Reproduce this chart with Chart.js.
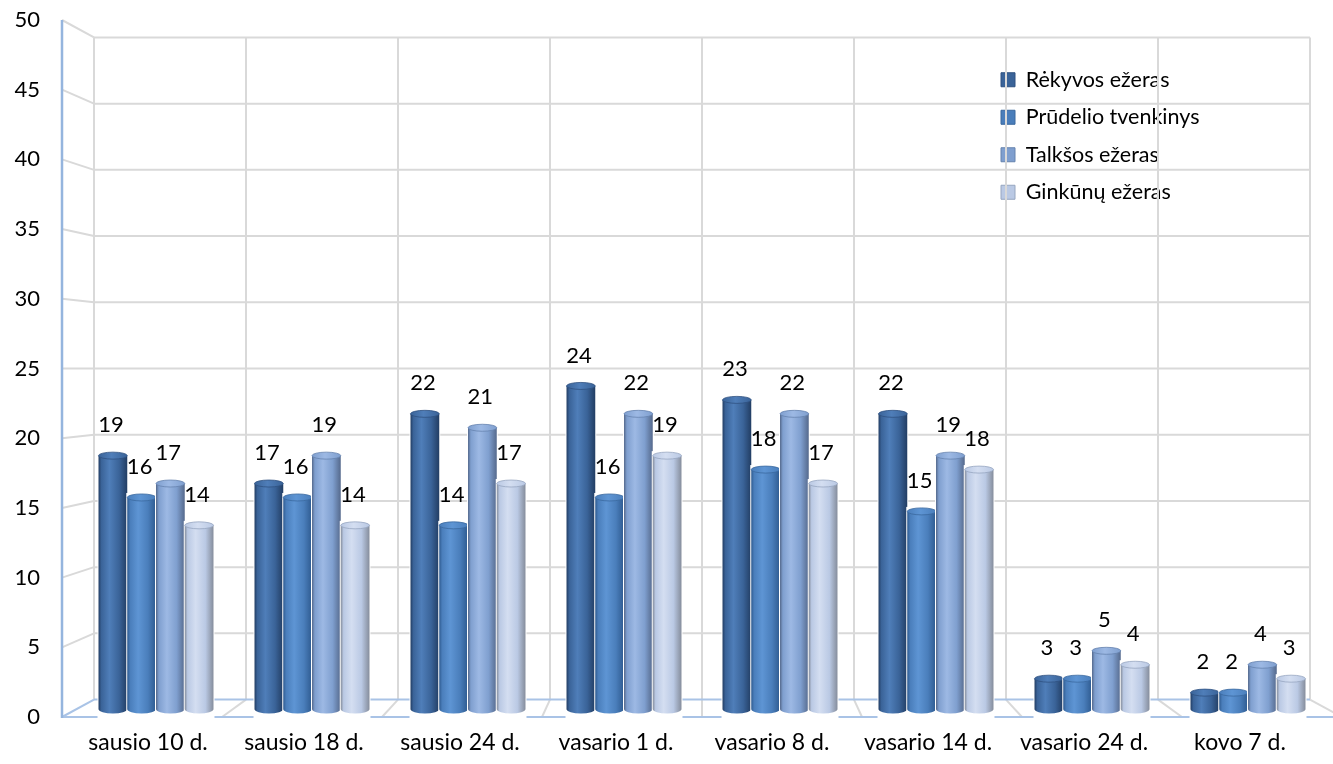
<!DOCTYPE html>
<html>
<head>
<meta charset="utf-8">
<script src="https://cdn.jsdelivr.net/npm/chart.js@4.4.1/dist/chart.umd.min.js"></script>
<style>
  html, body { margin: 0; padding: 0; background: #ffffff; }
  #wrap { width: 1333px; height: 764px; }
</style>
</head>
<body>
<div id="wrap"><canvas id="c" width="1333" height="764"></canvas></div>
<script>
// Measurement dates
const categories = ['sausio 10 d.', 'sausio 18 d.', 'sausio 24 d.', 'vasario 1 d.',
                    'vasario 8 d.', 'vasario 14 d.', 'vasario 24 d.', 'kovo 7 d.'];

// Series names
const seriesNames = ['Rėkyvos ežeras', 'Prūdelio tvenkinys', 'Talkšos ežeras', 'Ginkūnų ežeras'];

// Values per water body
const rekyvos  = [19, 17, 22, 24, 23, 22, 3, 2];
const prudelio = [16, 16, 14, 16, 18, 15, 3, 2];
const talksos  = [17, 19, 21, 22, 22, 19, 5, 4];
const ginkunu  = [14, 14, 17, 19, 17, 18, 4, 3];

// Value axis ticks
const yTicks = [0, 5, 10, 15, 20, 25, 30, 35, 40, 45, 50];

// Cylinder shades: base, edge shadow, highlight
const palette = [
  { base: '#3A6398', dark: '#223D63', light: '#4F7EB9', border: '#2E5180' },
  { base: '#4A7EBB', dark: '#2E5A8F', light: '#5E95D4', border: '#3A689E' },
  { base: '#7F9FCF', dark: '#55698C', light: '#9DB9E4', border: '#6683AE' },
  { base: '#BAC9E4', dark: '#858D9C', light: '#D4DEF1', border: '#97A6C0' }
];

const FONT = 'Lato, "Open Sans", "DejaVu Sans", sans-serif';
const BAR_DEPTH = 0.975;   // bars sit half way into the box
const WALL_DEPTH = 0.95;   // back wall scale relative to the front plane

function geometry(chart) {
  const a = chart.chartArea;
  const cx = (a.left + a.right) / 2;
  const cy = (a.top + a.bottom) / 2;
  const n = categories.length;
  const step = (a.right - a.left) / n;
  const frontX = [];
  for (let i = 0; i <= n; i++) {
    const mid = a.left + i * step;
    frontX.push(cx + (mid - cx) / BAR_DEPTH);
  }
  const backX = x => cx + (x - cx) * WALL_DEPTH;
  const backY = y => cy + (y - cy) * WALL_DEPTH;
  return { a, cx, cy, frontX, backX, backY };
}

function line(ctx, x1, y1, x2, y2) {
  ctx.beginPath();
  ctx.moveTo(x1, y1);
  ctx.lineTo(x2, y2);
  ctx.stroke();
}

// Box walls, floor and gridlines in perspective
const wallPlugin = {
  id: 'wall',
  beforeDatasetsDraw(chart) {
    const ctx = chart.ctx;
    const ys = chart.scales.y;
    const g = geometry(chart);
    const fx = g.frontX;
    const last = fx.length - 1;
    const yTop = ys.getPixelForValue(yTicks[yTicks.length - 1]);
    const yZero = ys.getPixelForValue(0);
    const bl = g.backX(fx[0]);
    const br = g.backX(fx[last]);

    ctx.save();
    ctx.lineCap = 'butt';
    ctx.strokeStyle = '#D9D9D9';
    ctx.lineWidth = 2;
    // horizontal back-wall gridlines and their side-wall connectors
    yTicks.forEach(v => {
      if (v === 0) return;
      const yf = ys.getPixelForValue(v);
      const yb = g.backY(yf);
      line(ctx, bl, yb, br, yb);
      line(ctx, fx[0], yf, bl, yb);
    });
    // vertical back-wall lines at category boundaries
    for (let i = 0; i <= last; i++) {
      const bx = g.backX(fx[i]);
      line(ctx, bx, g.backY(yTop), bx, g.backY(yZero));
      if (i > 0) line(ctx, bx, g.backY(yZero), Math.min(fx[i], chart.width + 20), yZero);
    }
    // floor outline
    ctx.strokeStyle = '#A9C3E6';
    ctx.lineWidth = 2;
    line(ctx, bl, g.backY(yZero), br, g.backY(yZero));
    line(ctx, fx[0], yZero, chart.width, yZero);
    line(ctx, fx[0], yZero, bl, g.backY(yZero));
    // front value axis
    ctx.strokeStyle = '#95B5DE';
    ctx.lineWidth = 2.5;
    line(ctx, fx[0], yTop, fx[0], yZero + 1);
    ctx.restore();
  }
};

// Cylinder shading over every bar, then value labels
const cylinderPlugin = {
  id: 'cylinders',
  afterDatasetsDraw(chart) {
    const ctx = chart.ctx;
    const ys = chart.scales.y;
    const yZero = ys.getPixelForValue(0);
    const ry = 3.5;
    ctx.save();
    chart.data.datasets.forEach((ds, di) => {
      const meta = chart.getDatasetMeta(di);
      const p = palette[di];
      meta.data.forEach((el) => {
        const w = el.width;
        const x0 = el.x - w / 2;
        const x1 = el.x + w / 2;
        const topC = el.y + ry;
        const botC = yZero - 8;
        const grad = ctx.createLinearGradient(x0, 0, x1, 0);
        grad.addColorStop(0, p.dark);
        grad.addColorStop(0.1, p.base);
        grad.addColorStop(0.38, p.light);
        grad.addColorStop(0.72, p.base);
        grad.addColorStop(1, p.dark);
        // clear the flat bar
        ctx.fillStyle = '#ffffff';
        ctx.fillRect(x0 - 1, el.y - 1, w + 2, yZero - el.y + 2);
        // body with rounded bottom
        ctx.fillStyle = grad;
        ctx.beginPath();
        ctx.moveTo(x0, topC);
        ctx.lineTo(x0, botC);
        ctx.ellipse(el.x, botC, w / 2, ry + 1, 0, Math.PI, 0, true);
        ctx.lineTo(x1, topC);
        ctx.closePath();
        ctx.fill();
        // top cap
        const capGrad = ctx.createLinearGradient(x0, 0, x1, 0);
        capGrad.addColorStop(0, p.base);
        capGrad.addColorStop(0.45, p.light);
        capGrad.addColorStop(1, p.base);
        ctx.fillStyle = capGrad;
        ctx.beginPath();
        ctx.ellipse(el.x, topC, w / 2, ry, 0, 0, Math.PI * 2);
        ctx.fill();
        ctx.strokeStyle = p.border;
        ctx.lineWidth = 0.8;
        ctx.stroke();
      });
    });

    // value labels
    ctx.fillStyle = '#000000';
    ctx.font = '22px ' + FONT;
    ctx.textAlign = 'center';
    ctx.textBaseline = 'middle';
    chart.data.datasets.forEach((ds, di) => {
      const meta = chart.getDatasetMeta(di);
      meta.data.forEach((el, i) => {
        ctx.fillText(String(ds.data[i]), el.x - 2, el.y - 27);
      });
    });
    ctx.restore();
  }
};

// Legend placed at the upper right inside the plot
const legendPlacer = {
  id: 'legendPlacer',
  afterLayout(chart) {
    const lg = chart.legend;
    if (!lg) return;
    const w = lg.width, h = lg.height;
    lg.left = 985;
    lg.top = 53;
    lg.right = lg.left + w;
    lg.bottom = lg.top + h;
  }
};

const series = [rekyvos, prudelio, talksos, ginkunu];

new Chart(document.getElementById('c'), {
  type: 'bar',
  data: {
    labels: categories,
    datasets: series.map((vals, i) => ({
      label: seriesNames[i],
      data: vals,
      backgroundColor: palette[i].base,
      borderColor: palette[i].border,
      borderWidth: 1,
      categoryPercentage: 0.737,
      barPercentage: 1.0
    }))
  },
  options: {
    responsive: false,
    devicePixelRatio: 1,
    animation: false,
    layout: { padding: { top: 20, right: 7, bottom: 0, left: 0 } },
    plugins: {
      tooltip: { enabled: false },
      legend: {
        position: 'chartArea',
        align: 'start',
        labels: {
          boxWidth: 14,
          boxHeight: 14,
          padding: 16,
          color: '#000000',
          font: { family: FONT, size: 21.5 }
        }
      }
    },
    scales: {
      x: {
        grid: { display: false, drawTicks: false },
        border: { display: false },
        ticks: {
          color: '#000000',
          padding: 12,
          labelOffset: -8,
          maxRotation: 0,
          font: { family: FONT, size: 23 }
        },
        afterFit(scale) {
          scale.height = 47;
          scale.paddingLeft = 0;
          scale.paddingRight = 0;
        }
      },
      y: {
        min: yTicks[0],
        max: yTicks[yTicks.length - 1],
        grid: { display: false, drawTicks: false },
        border: { display: false },
        ticks: {
          stepSize: yTicks[1] - yTicks[0],
          color: '#000000',
          padding: 38,
          font: { family: FONT, size: 22 }
        },
        afterFit(scale) {
          scale.width = 78;
          scale.paddingTop = 0;
          scale.paddingBottom = 0;
        }
      }
    }
  },
  plugins: [wallPlugin, cylinderPlugin, legendPlacer]
});
</script>
</body>
</html>
